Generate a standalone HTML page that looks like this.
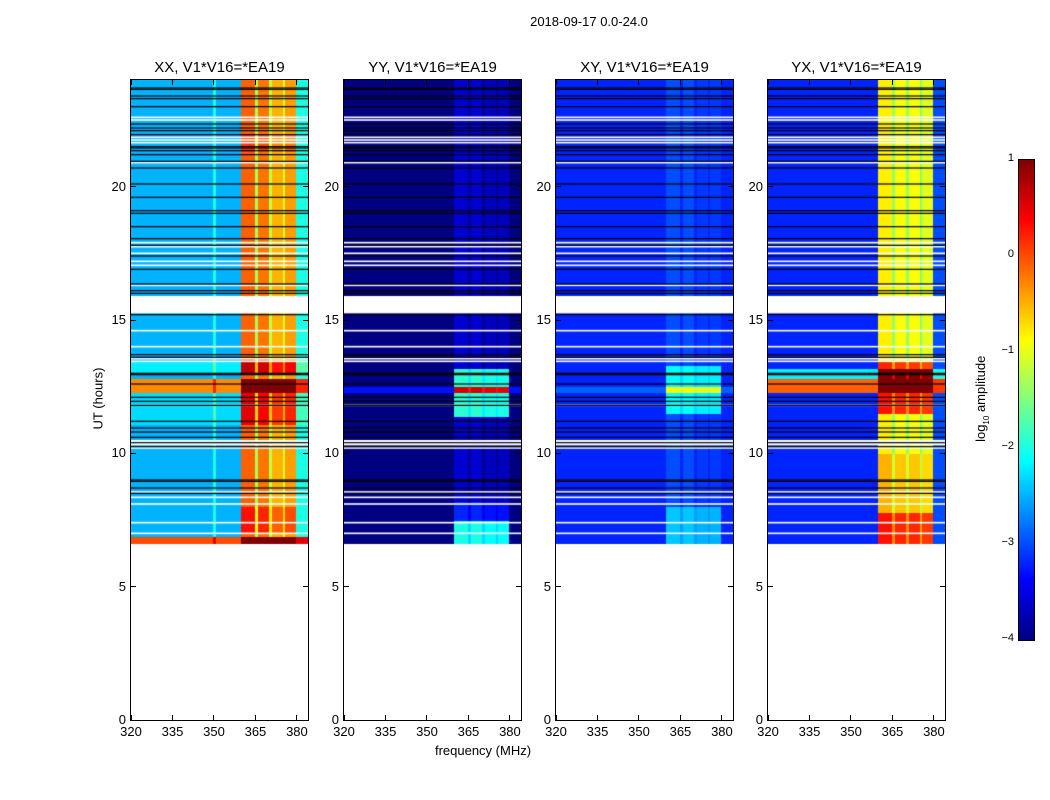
<!DOCTYPE html>
<html><head><meta charset="utf-8"><style>
body{margin:0;background:#fff;width:1050px;height:800px;position:relative;overflow:hidden;font-family:"Liberation Sans",sans-serif;color:#000}
.t{position:absolute;white-space:nowrap}
canvas{position:absolute}
</style></head><body>
<div class="t" style="left:489px;top:14px;width:200px;text-align:center;font-size:13px">2018-09-17 0.0-24.0</div>
<div class="t" style="left:48px;top:391px;width:100px;text-align:center;font-size:13px;transform:rotate(-90deg)">UT (hours)</div>
<div class="t" style="left:383px;top:743px;width:200px;text-align:center;font-size:13px">frequency (MHz)</div>
<div class="t" style="left:922px;top:390px;width:120px;text-align:center;font-size:13px;transform:rotate(-90deg)">log<sub style="font-size:8px">10</sub> amplitude</div>
<div id="root"></div>
<script>
// ---- data ----
const panelTitles = ["XX, V1*V16=*EA19","YY, V1*V16=*EA19","XY, V1*V16=*EA19","YX, V1*V16=*EA19"];
const xTicks = [320,335,350,365,380];
const yTicks = [0,5,10,15,20];
const cbTicks = [1,0,-1,-2,-3,-4];
const tStart = 6.6, tEnd = 24, tStep = 0.1;
const freqStart = 320, freqStep = 1, nChan = 64, bandLo = 360, bandHi = 380;
// level below band (320..359), within band (360..379, 1 MHz), above band (380..383)
const leftLevel = [-2.5,-4.0,-3.2,-3.2];
const bumpChan = [350,350,350,350];
const bumpLevel = [-2.0,-4.0,-3.2,-3.2];
const bandXX = [-0.1,-0.1,-0.1,-0.1,-0.1,-1.3,-0.2,-0.2,-0.2,-0.2,-1.2,-0.5,-0.5,-0.5,-0.5,-1.1,-0.4,-0.4,-0.4,-0.4];
const bandYY = [-3.6,-3.6,-3.6,-3.6,-3.6,-3.9,-3.6,-3.6,-3.6,-3.6,-3.9,-3.7,-3.7,-3.7,-3.7,-3.9,-3.7,-3.7,-3.7,-3.7];
const bandXY = [-3.0,-3.0,-3.0,-3.0,-3.0,-3.2,-3.0,-3.0,-3.0,-3.0,-3.2,-3.1,-3.1,-3.1,-3.1,-3.2,-3.1,-3.1,-3.1,-3.1];
const bandYX = [-0.8,-0.8,-0.8,-0.8,-0.8,-1.4,-0.9,-0.9,-0.9,-0.9,-1.4,-0.9,-0.9,-0.9,-0.9,-1.5,-1.0,-1.0,-1.0,-1.0];
const rightLevel = [-2.0,-4.0,-3.2,-3.0];
// time segments: [t0, t1, fullOffset, bandOffset]
const segXX = [[6.6,6.9,2.5,1],[7.0,8.0,0,0.4],[11.1,12.3,0.2,0.4],[12.3,12.8,2.2,0.8],[13.0,13.5,0.3,0.5],[21.3,22.0,0,0.2]];
const segYY = [[6.6,7.5,0,1.6],[11.4,13.2,0,1.7],[12.3,12.5,0.7,1.8],[7.5,8.2,0,0.4]];
const segXY = [[6.6,8.0,0,0.6],[11.5,13.3,0,0.9],[12.3,12.5,0.3,0.9]];
const segYX = [[6.6,7.8,0,1.1],[7.8,10.0,0,0.3],[11.5,12.3,0,1.1],[12.3,12.8,3.1,1.2],[12.8,13.2,1.0,0.9],[13.0,13.5,0,1.0]];
const whiteLines = [22.6,22.5,21.85,21.75,21.65,20.9,17.9,17.75,17.5,17.2,17.05,16.3,14.6,14.0,13.55,13.45,11.8,10.2,8.55,8.35,8.1,7.4,7.0];
const blackLines = [23.7,23.65,23.4,23.3,23.0,22.35,22.2,22.1,21.95,21.5,21.45,21.35,21.2,20.95,20.7,20.1,19.6,19.1,19.0,18.5,18.05,17.8,17.4,16.9,16.35,16.1,16.0,15.2,13.7,13.6,13.0,12.95,12.6,12.1,11.95,11.8,11.2,10.95,10.8,10.6,10.4,10.25,9.0,8.95,8.7,8.5];
const whiteGaps = [[15.25,15.9],[10.3,10.5]];
const bands = [bandXX,bandYY,bandXY,bandYX];
const segs = [segXX,segYY,segXY,segYX];
// ---- layout ----
const panelX = [131,344,556,768], PW = 177, PT = 80, PH = 640;
const fMin = 320, fMax = 384, tMax = 24;
function xs(f){return (f-fMin)/(fMax-fMin)*PW;}
function ys(t){return PH - t/tMax*PH;}
function jet(v){
  let x = Math.max(0,Math.min(1,(v+4)/5));
  const r = Math.max(0,Math.min(1,1.5-Math.abs(4*x-3)));
  const g = Math.max(0,Math.min(1,1.5-Math.abs(4*x-2)));
  const b = Math.max(0,Math.min(1,1.5-Math.abs(4*x-1)));
  return `rgb(${Math.round(r*255)},${Math.round(g*255)},${Math.round(b*255)})`;
}
function baseLevel(p,f){
  if(f<bandLo) return f===bumpChan[p]?bumpLevel[p]:leftLevel[p];
  if(f<bandHi) return bands[p][f-bandLo];
  return rightLevel[p];
}
const root = document.getElementById('root');
function mk(tag, css, txt){
  const e = document.createElement(tag);
  e.style.cssText = css;
  if(txt!==undefined) e.textContent = txt;
  root.appendChild(e);
  return e;
}
for(let p=0;p<4;p++){
  const X = panelX[p];
  const title = mk('div',`left:${X-20}px;top:59px;width:${PW+40}px;text-align:center;font-size:15px`, panelTitles[p]);
  title.className='t';
  
  
  const c = document.createElement('canvas');
  c.width = PW; c.height = PH;
  c.style.cssText = `left:${X}px;top:${PT}px;width:${PW}px;height:${PH}px`;
  
  
  root.appendChild(c);
  const ctx = c.getContext('2d');
  for(let t=tStart; t<tEnd-1e-9; t+=tStep){
    let full=0, band=0;
    for(const s of segs[p]) if(t>=s[0]-1e-9 && t<s[1]-1e-9){full+=s[2];band+=s[3];}
    for(let k=0;k<nChan;k++){
      const f = freqStart+k*freqStep;
      const inBand = f>=bandLo && f<bandHi;
      const v = baseLevel(p,f)+full+(inBand?band:0);
      ctx.fillStyle = jet(v);
      const x0 = Math.floor(xs(f)), x1 = Math.ceil(xs(f+freqStep));
      const y0 = Math.floor(ys(t+tStep)), y1 = Math.ceil(ys(t));
      ctx.fillRect(x0,y0,x1-x0,y1-y0);
    }
  }
  ctx.fillStyle='#fff';
  for(const g of whiteGaps) ctx.fillRect(0,ys(g[1]),PW,ys(g[0])-ys(g[1]));
  for(const w of whiteLines) ctx.fillRect(0,ys(w)-0.8,PW,1.6);
  ctx.fillStyle='#000';
  for(const b of blackLines) ctx.fillRect(0,ys(b)-0.6,PW,1.2);
  const fr = mk('div',`position:absolute;left:${X-1}px;top:${PT-1}px;width:${PW}px;height:${PH}px;border:1px solid #000`);
  
  
  for(const xt of xTicks){
    const px = X+xs(xt);
    const tk = mk('div',`position:absolute;left:${px-0.5}px;top:${PT+PH-5}px;width:1px;height:5px;background:#000`);
    
    
    const tk2 = mk('div',`position:absolute;left:${px-0.5}px;top:${PT}px;width:1px;height:5px;background:#000`);
    
    
    const lb = mk('div',`left:${px-20}px;top:${PT+PH+4}px;width:40px;text-align:center;font-size:13px`,String(xt));
    lb.className='t';
    
    
  }
  for(const yt of yTicks){
    const py = PT+ys(yt);
    const tk = mk('div',`position:absolute;left:${X}px;top:${py-0.5}px;width:5px;height:1px;background:#000`);
    
    
    const tk2 = mk('div',`position:absolute;left:${X+PW-5}px;top:${py-0.5}px;width:5px;height:1px;background:#000`);
    
    
    const lb = mk('div',`left:${X-45}px;top:${py-8}px;width:40px;text-align:right;font-size:13px`,String(yt));
    lb.className='t';
    
    
  }
}
const CBX=1019, CBT=160, CBW=15, CBH=480;
const cb = document.createElement('canvas');
cb.width=CBW; cb.height=CBH;
cb.style.cssText=`left:${CBX}px;top:${CBT}px;width:${CBW}px;height:${CBH}px`;


root.appendChild(cb);
const cctx = cb.getContext('2d');
for(let i=0;i<CBH;i++){cctx.fillStyle=jet(1-5*(i+0.5)/CBH);cctx.fillRect(0,i,CBW,1);}
const cbf = mk('div',`position:absolute;left:${CBX-1}px;top:${CBT-1}px;width:${CBW}px;height:${CBH}px;border:1px solid #000`);


for(const v of cbTicks){
  const py = CBT+(1-v)/5*CBH;
  const lb = mk('div',`left:${CBX-45}px;top:${py-8}px;width:40px;text-align:right;font-size:11px`,String(v).replace('-','\u2212'));
  lb.className='t';
  
  
}
</script>
</body></html>
